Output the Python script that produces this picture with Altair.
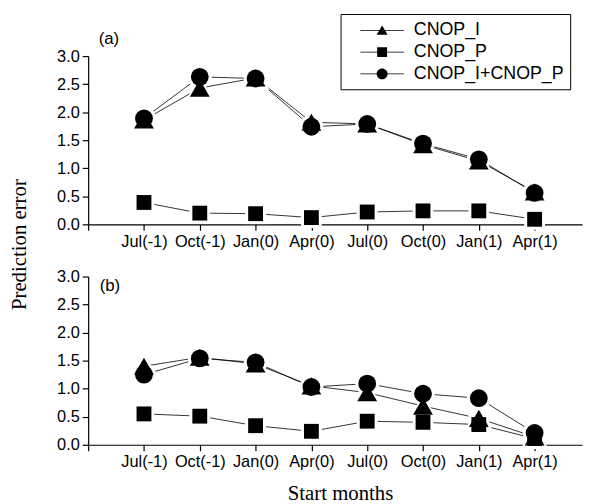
import altair as alt
import pandas as pd

months = ["Jul(-1)", "Oct(-1)", "Jan(0)", "Apr(0)", "Jul(0)", "Oct(0)", "Jan(1)", "Apr(1)"]
series_names = ["CNOP_I", "CNOP_P", "CNOP_I+CNOP_P"]

# panel (a)
a_cnop_i = [1.86, 2.43, 2.61, 1.82, 1.79, 1.42, 1.13, 0.58]
a_cnop_p = [0.39, 0.20, 0.19, 0.12, 0.22, 0.24, 0.24, 0.09]
a_both = [1.89, 2.63, 2.60, 1.74, 1.79, 1.44, 1.16, 0.56]

# panel (b)
b_cnop_i = [1.40, 1.56, 1.44, 1.05, 0.93, 0.69, 0.47, 0.14]
b_cnop_p = [0.55, 0.51, 0.34, 0.24, 0.42, 0.40, 0.36, 0.11]
b_both = [1.25, 1.54, 1.47, 1.03, 1.09, 0.91, 0.83, 0.21]

y_ticks = [0.0, 0.5, 1.0, 1.5, 2.0, 2.5, 3.0]
x_tick_values = [0, 1, 2, 3, 4, 5, 6, 7, 8]


def frame(vals_list):
    rows = []
    for name, vals in zip(series_names, vals_list):
        for i, (m, v) in enumerate(zip(months, vals)):
            rows.append({"series": name, "idx": i + 1, "month": m, "value": v})
    return pd.DataFrame(rows)


df_a = frame([a_cnop_i, a_cnop_p, a_both])
df_b = frame([b_cnop_i, b_cnop_p, b_both])

# styles
shape = {"CNOP_I": "triangle-up", "CNOP_P": "square", "CNOP_I+CNOP_P": "circle"}
mark_size = {"CNOP_I": 400, "CNOP_P": 225, "CNOP_I+CNOP_P": 324}
halo_size = {"CNOP_I": 800, "CNOP_P": 441, "CNOP_I+CNOP_P": 576}
LINE = "M0.35,-0.04H4.75V0.04H0.35Z"
legend_paths = [
    LINE + "M2.55,-0.5L3.1,0.45L2.0,0.45Z",
    LINE + "M2.05,-0.5H3.05V0.5H2.05Z",
    LINE + "M3.1,0A0.55,0.55,0,1,1,2.0,0A0.55,0.55,0,1,1,3.1,0Z",
]

SANS = "Liberation Sans"
SERIF = "Liberation Serif"
label_expr = "[" + ",".join(["''"] + ["'" + m + "'" for m in months]) + "][datum.value]"

W, H = 499, 170


def x_enc(with_title):
    kw = dict(
        values=x_tick_values, labelExpr=label_expr, grid=False, tickSize=6,
        labelPadding=3, labelFont=SANS, labelFontSize=16.5, labelColor="black",
        domainColor="black", tickColor="black", domainWidth=1.2, tickWidth=1.2,
        labelAngle=0, labelFlush=False, labelOverlap=False,
    )
    if with_title:
        kw.update(title="Start months", titleFont=SERIF, titleFontSize=21,
                  titleFontWeight="normal", titleColor="black", titlePadding=13,
                  titleX=254.5)
    else:
        kw.update(title="")
    return alt.X("idx:Q", scale=alt.Scale(domain=[0, 8.85], nice=False, zero=False),
                 axis=alt.Axis(**kw))


y_enc = alt.Y(
    "value:Q",
    scale=alt.Scale(domain=[0, 3], nice=False),
    axis=alt.Axis(values=y_ticks, format=".1f", title="", grid=False, tickSize=6,
                  labelPadding=3, labelFont=SANS, labelFontSize=16.5,
                  labelColor="black", domainColor="black", tickColor="black",
                  domainWidth=1.2, tickWidth=1.2),
)


def panel(df, tag, tag_xy, first):
    base = alt.Chart(df).encode(x=x_enc(not first), y=y_enc)
    layers = [base.mark_line(color="black", strokeWidth=0.8).encode(detail="series:N")]
    halos, marks = [], []
    for s in series_names:
        f = base.transform_filter(alt.datum.series == s)
        halos.append(f.mark_point(shape=shape[s], size=halo_size[s], filled=True,
                                  color="white", opacity=1, strokeWidth=0))
        marks.append(f.mark_point(shape=shape[s], size=mark_size[s], filled=True,
                                  color="black", opacity=1, strokeWidth=0))
    layers += halos + marks
    layers.append(
        alt.Chart(pd.DataFrame({"t": [tag]})).mark_text(
            font=SANS, fontSize=17, color="black", align="center", baseline="middle"
        ).encode(text="t:N", x=alt.value(tag_xy[0]), y=alt.value(tag_xy[1]))
    )
    if first:
        layers.append(
            base.mark_point(filled=True, color="black", opacity=0, strokeWidth=0).encode(
                shape=alt.Shape(
                    "series:N",
                    scale=alt.Scale(domain=series_names, range=legend_paths),
                    legend=alt.Legend(
                        orient="none", legendX=255, legendY=-42.5, title=None,
                        padding=6, strokeColor="black", fillColor="white",
                        labelFont=SANS, labelFontSize=18, labelColor="black",
                        labelOffset=47, symbolSize=400, symbolFillColor="black",
                        symbolStrokeColor="black", symbolStrokeWidth=0.5,
                        symbolOpacity=1, rowPadding=2, labelLimit=400,
                        labelExpr="datum.label + '\u00a0\u00a0\u00a0'",
                    ),
                )
            )
        )
        layers.append(
            alt.Chart(pd.DataFrame({"t": ["Prediction error"]})).mark_text(
                font=SERIF, fontSize=21, color="black", align="center",
                baseline="middle", angle=270
            ).encode(text="t:N", x=alt.value(-69), y=alt.value(190.5))
        )
    return alt.layer(*layers).properties(width=W, height=H)


pa = panel(df_a, "(a)", (21, -17.5), True)
pb = panel(df_b, "(b)", (22, 10), False)

chart = (
    alt.vconcat(pa, pb, spacing=52.7, bounds="flush")
    .properties(padding={"left": 1, "top": 3, "right": 5, "bottom": 0}, background="white")
    .configure_view(strokeWidth=0)
)

chart.save("out.html", embed_options={"renderer": "svg", "actions": False})
